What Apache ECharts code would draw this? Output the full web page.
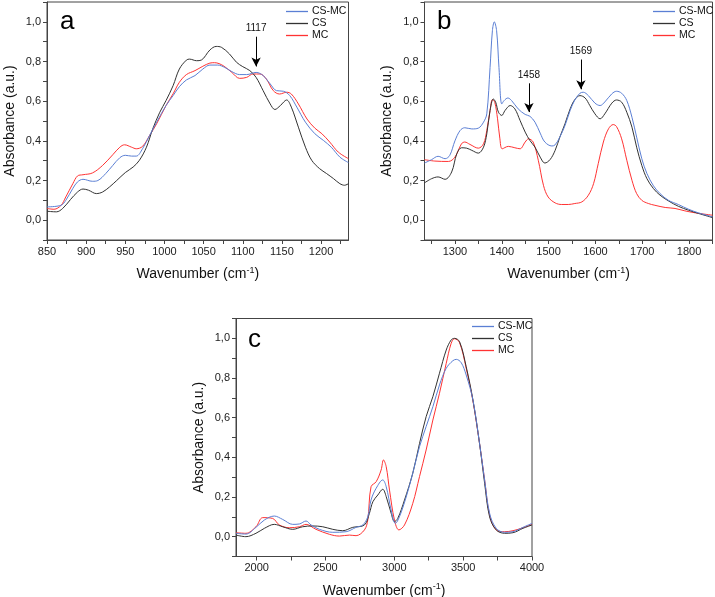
<!DOCTYPE html>
<html>
<head>
<meta charset="utf-8">
<script src="https://cdn.jsdelivr.net/npm/echarts@6/dist/echarts.min.js"></script>
<style>
html,body{margin:0;padding:0;background:#fff;}
#chart{width:715px;height:597px;}
</style>
</head>
<body>
<div id="chart"></div>
<script>
// ---------- DATA ----------
var seriesNames = ['CS-MC', 'CS', 'MC'];
var panelLetters = ['a', 'b', 'c'];
var yTickLabels = [0, 0.2, 0.4, 0.6, 0.8, 1.0];
var yTickMarks = [-0.1, 0, 0.1, 0.2, 0.3, 0.4, 0.5, 0.6, 0.7, 0.8, 0.9, 1.0, 1.1];
var aXLabels = [850, 900, 950, 1000, 1050, 1100, 1150, 1200];
var aXTicks = [850, 875, 900, 925, 950, 975, 1000, 1025, 1050, 1075, 1100, 1125, 1150, 1175, 1200, 1225];
var bXLabels = [1300, 1400, 1500, 1600, 1700, 1800];
var bXTicks = [1250, 1300, 1350, 1400, 1450, 1500, 1550, 1600, 1650, 1700, 1750, 1800, 1850];
var cXLabels = [2000, 2500, 3000, 3500, 4000];
var cXTicks = [2000, 2250, 2500, 2750, 3000, 3250, 3500, 3750, 4000];
var annotationsA = [1117];
var annotationsB = [1458, 1569];

// Panel a (850-1235 cm-1)
var aCSMC = [[850,0.067],[868,0.075],[874,0.10],[883,0.16],[889,0.193],[896,0.206],[908,0.196],[915,0.20],[925,0.235],[934,0.276],[943,0.315],[950,0.327],[958,0.323],[964,0.323],[972,0.36],[981,0.427],[990,0.494],[1002,0.578],[1011,0.628],[1019,0.673],[1028,0.707],[1039,0.729],[1049,0.762],[1058,0.782],[1068,0.782],[1077,0.77],[1086,0.749],[1096,0.734],[1105,0.734],[1117,0.745],[1126,0.729],[1135,0.687],[1143,0.653],[1152,0.65],[1160,0.628],[1169,0.57],[1180,0.494],[1192,0.436],[1203,0.402],[1213,0.368],[1224,0.318],[1235,0.29]];
var aCS = [[850,0.045],[862,0.042],[870,0.059],[880,0.104],[889,0.142],[896,0.157],[903,0.151],[913,0.134],[921,0.142],[930,0.168],[939,0.20],[950,0.24],[960,0.268],[968,0.302],[977,0.368],[985,0.46],[994,0.544],[1002,0.603],[1011,0.678],[1019,0.762],[1028,0.807],[1032,0.812],[1041,0.804],[1047,0.807],[1058,0.858],[1066,0.876],[1073,0.871],[1083,0.838],[1092,0.796],[1100,0.774],[1109,0.754],[1117,0.72],[1126,0.653],[1135,0.586],[1141,0.558],[1148,0.578],[1156,0.606],[1162,0.57],[1171,0.469],[1180,0.368],[1188,0.302],[1198,0.26],[1207,0.235],[1216,0.209],[1224,0.184],[1230,0.176],[1235,0.184]];
var aMC = [[850,0.059],[859,0.055],[868,0.075],[874,0.117],[883,0.184],[889,0.223],[896,0.229],[908,0.238],[921,0.276],[934,0.33],[943,0.368],[949,0.38],[958,0.368],[964,0.36],[972,0.372],[981,0.427],[990,0.486],[1002,0.578],[1011,0.637],[1019,0.695],[1028,0.734],[1039,0.754],[1049,0.776],[1058,0.792],[1064,0.794],[1075,0.779],[1086,0.745],[1096,0.715],[1105,0.72],[1113,0.737],[1122,0.737],[1130,0.712],[1139,0.653],[1147,0.636],[1156,0.645],[1162,0.636],[1171,0.586],[1182,0.51],[1192,0.464],[1201,0.436],[1211,0.394],[1222,0.343],[1235,0.31]];

// Panel b (1235-1850 cm-1)
var bCSMC = [[1235,0.288],[1250,0.305],[1264,0.322],[1279,0.31],[1289,0.327],[1300,0.40],[1311,0.452],[1321,0.466],[1336,0.46],[1350,0.464],[1361,0.494],[1368,0.536],[1375,0.77],[1380,0.955],[1384,1.0],[1389,0.955],[1394,0.77],[1400,0.586],[1405,0.603],[1413,0.616],[1421,0.603],[1435,0.561],[1450,0.533],[1460,0.524],[1471,0.494],[1482,0.439],[1492,0.394],[1507,0.374],[1514,0.38],[1524,0.419],[1535,0.477],[1546,0.553],[1556,0.606],[1567,0.64],[1574,0.645],[1585,0.628],[1599,0.59],[1610,0.578],[1620,0.596],[1635,0.637],[1645,0.65],[1656,0.64],[1667,0.603],[1678,0.519],[1688,0.419],[1699,0.31],[1710,0.235],[1724,0.173],[1738,0.134],[1756,0.10],[1777,0.079],[1799,0.055],[1820,0.037],[1850,0.017]];
var bCS = [[1235,0.188],[1250,0.209],[1264,0.218],[1279,0.206],[1293,0.243],[1304,0.335],[1314,0.365],[1325,0.363],[1336,0.352],[1350,0.338],[1361,0.368],[1368,0.435],[1375,0.553],[1382,0.611],[1387,0.595],[1393,0.544],[1400,0.528],[1407,0.553],[1418,0.578],[1428,0.561],[1439,0.503],[1450,0.444],[1460,0.402],[1471,0.368],[1482,0.318],[1492,0.288],[1503,0.305],[1514,0.352],[1524,0.419],[1535,0.486],[1546,0.561],[1556,0.608],[1567,0.628],[1578,0.616],[1588,0.578],[1599,0.536],[1610,0.511],[1620,0.536],[1635,0.59],[1645,0.606],[1656,0.595],[1667,0.544],[1678,0.469],[1688,0.368],[1699,0.276],[1710,0.209],[1724,0.159],[1738,0.126],[1756,0.097],[1777,0.07],[1799,0.05],[1820,0.034],[1850,0.013]];
var bMC = [[1235,0.305],[1257,0.298],[1286,0.296],[1300,0.318],[1314,0.385],[1321,0.394],[1332,0.382],[1350,0.363],[1361,0.385],[1368,0.452],[1375,0.553],[1380,0.608],[1385,0.595],[1391,0.511],[1396,0.41],[1401,0.36],[1414,0.372],[1428,0.365],[1439,0.36],[1450,0.394],[1457,0.41],[1467,0.394],[1478,0.302],[1489,0.176],[1499,0.117],[1514,0.087],[1528,0.079],[1542,0.079],[1556,0.084],[1571,0.092],[1585,0.126],[1596,0.184],[1606,0.285],[1617,0.394],[1628,0.461],[1638,0.482],[1645,0.472],[1656,0.41],[1667,0.302],[1678,0.201],[1688,0.134],[1699,0.10],[1713,0.084],[1727,0.075],[1749,0.064],[1770,0.059],[1791,0.047],[1813,0.037],[1850,0.025]];

// Panel c (1850-4000 cm-1)
var cCSMC = [[1850,0.017],[1922,0.013],[1995,0.047],[2056,0.084],[2128,0.104],[2189,0.087],[2262,0.062],[2310,0.064],[2359,0.079],[2395,0.059],[2456,0.037],[2553,0.022],[2650,0.025],[2722,0.047],[2771,0.059],[2807,0.10],[2831,0.185],[2868,0.244],[2916,0.286],[2941,0.252],[2977,0.134],[3008,0.067],[3037,0.10],[3086,0.20],[3134,0.32],[3183,0.454],[3231,0.555],[3280,0.655],[3328,0.765],[3377,0.849],[3425,0.887],[3450,0.894],[3486,0.877],[3522,0.815],[3571,0.689],[3619,0.47],[3656,0.286],[3692,0.118],[3740,0.042],[3801,0.022],[3862,0.025],[3934,0.047],[4000,0.067]];
var cCS = [[1850,0.008],[1922,0.0],[1995,0.017],[2056,0.042],[2128,0.062],[2189,0.05],[2262,0.037],[2334,0.05],[2407,0.054],[2480,0.05],[2553,0.037],[2625,0.03],[2698,0.047],[2783,0.059],[2819,0.118],[2844,0.176],[2880,0.21],[2916,0.239],[2941,0.202],[2977,0.118],[3001,0.076],[3025,0.092],[3074,0.185],[3134,0.32],[3183,0.47],[3231,0.605],[3280,0.706],[3328,0.824],[3377,0.941],[3413,0.992],[3437,1.0],[3474,0.983],[3522,0.857],[3571,0.689],[3619,0.47],[3656,0.269],[3692,0.10],[3740,0.034],[3801,0.017],[3862,0.02],[3934,0.042],[4000,0.059]];
var cMC = [[1850,0.02],[1922,0.017],[1995,0.05],[2044,0.096],[2116,0.092],[2165,0.059],[2238,0.045],[2310,0.05],[2359,0.062],[2431,0.037],[2528,0.012],[2601,0.003],[2674,0.008],[2722,0.005],[2783,0.034],[2807,0.084],[2831,0.252],[2868,0.277],[2904,0.336],[2921,0.387],[2941,0.353],[2965,0.235],[3001,0.084],[3033,0.034],[3074,0.059],[3134,0.168],[3183,0.303],[3231,0.437],[3280,0.588],[3328,0.723],[3377,0.874],[3413,0.975],[3437,0.998],[3474,0.978],[3522,0.849],[3571,0.684],[3619,0.47],[3656,0.286],[3692,0.109],[3740,0.034],[3801,0.025],[3862,0.03],[3934,0.045],[4000,0.062]];

// ---------- STYLE ----------
var colors = {'CS-MC': '#5b7fd4', 'CS': '#333333', 'MC': '#ff3333'};
var FONT = 'Liberation Sans, Arial, sans-serif';
var axisColor = '#444';

var grids = [
  {left: 47, top: 2, width: 301.5, height: 238},
  {left: 424.5, top: 2, width: 288, height: 238},
  {left: 236, top: 318.5, width: 296, height: 238}
];
var xRanges = [[850, 1235], [1235, 1850], [1850, 4000]];
var xLabelSets = [aXLabels, bXLabels, cXLabels];
var xTickSets = [aXTicks, bXTicks, cXTicks];
var panelData = [
  {'CS-MC': aCSMC, 'CS': aCS, 'MC': aMC},
  {'CS-MC': bCSMC, 'CS': bCS, 'MC': bMC},
  {'CS-MC': cCSMC, 'CS': cCS, 'MC': cMC}
];

function fmtY(v) { return (Math.round(v * 10) / 10).toFixed(1).replace('.', ','); }
function fmtX(v) { return String(Math.round(v)); }

var option = {
  backgroundColor: '#fff',
  animation: false,
  textStyle: {fontFamily: FONT},
  grid: grids.map(function (g) {
    return {left: g.left, top: g.top, width: g.width, height: g.height,
      show: true, borderColor: axisColor, borderWidth: 1, backgroundColor: 'transparent',
      containLabel: false, outerBoundsMode: 'none'};
  }),
  title: [
    {text: panelLetters[0], left: 55, top: 4, textStyle: {fontSize: 26, fontWeight: 'normal', color: '#000', fontFamily: FONT}},
    {text: panelLetters[1], left: 432, top: 4, textStyle: {fontSize: 26, fontWeight: 'normal', color: '#000', fontFamily: FONT}},
    {text: panelLetters[2], left: 243, top: 322, textStyle: {fontSize: 26, fontWeight: 'normal', color: '#000', fontFamily: FONT}}
  ],
  legend: [
    {left: 286, top: 6},
    {left: 653, top: 6},
    {left: 472, top: 321}
  ].map(function (p) {
    return {left: p.left, top: p.top, orient: 'vertical',
      data: seriesNames.map(function (n) { return {name: n, icon: 'rect', itemStyle: {color: colors[n]}}; }),
      itemWidth: 22, itemHeight: 1.3, itemGap: 1, padding: 0, selectedMode: false,
      textStyle: {fontSize: 10.5, color: '#111', fontFamily: FONT, lineHeight: 11, padding: [0, 0, 0, -1]}};
  }),
  xAxis: [0, 1, 2].map(function (i) {
    return {type: 'value', gridIndex: i, min: xRanges[i][0], max: xRanges[i][1],
      name: '{t|Wavenumber (cm}{s|-1}{t|)}', nameLocation: 'middle', nameGap: 26,
      nameTextStyle: {rich: {t: {fontSize: 14, color: '#111', fontFamily: FONT},
        s: {fontSize: 9, color: '#111', fontFamily: FONT, verticalAlign: 'top', padding: [0, 0, 8, 0]}}},
      axisLine: {show: true, onZero: false, lineStyle: {color: axisColor, width: 1}},
      axisTick: {show: true, inside: false, length: 4, lineStyle: {color: axisColor}, customValues: xTickSets[i]},
      axisLabel: {customValues: xLabelSets[i], formatter: fmtX, fontSize: 11, color: '#222', margin: 6, fontFamily: FONT},
      splitLine: {show: false}};
  }),
  yAxis: [0, 1, 2].map(function (i) {
    return {type: 'value', gridIndex: i, min: -0.1, max: 1.1,
      name: 'Absorbance (a.u.)', nameLocation: 'middle', nameGap: 30,
      nameTextStyle: {fontSize: 14, color: '#111', fontFamily: FONT},
      axisLine: {show: true, onZero: false, lineStyle: {color: axisColor, width: 1}},
      axisTick: {show: true, inside: false, length: 4, lineStyle: {color: axisColor}, customValues: yTickMarks},
      axisLabel: {customValues: yTickLabels, formatter: fmtY, fontSize: 11, color: '#222', margin: 6, fontFamily: FONT},
      splitLine: {show: false}};
  }),
  series: []
};

function arrowLines(values, tops, tips) {
  return values.map(function (v, k) {
    return [{coord: [v, tops[k]], name: String(v)}, {coord: [v, tips[k]]}];
  });
}

var markLines = [
  {vals: annotationsA, tops: [0.925], tips: [0.775]},
  {vals: annotationsB, tops: [0.69, 0.81], tips: [0.545, 0.66]},
  null
];

[0, 1, 2].forEach(function (i) {
  seriesNames.forEach(function (n, j) {
    var s = {
      name: n, type: 'line', xAxisIndex: i, yAxisIndex: i,
      data: panelData[i][n], showSymbol: false, symbol: 'none', smooth: 0.35,
      lineStyle: {color: colors[n], width: 1}, itemStyle: {color: colors[n]},
      z: 3 - j
    };
    if (j === 1 && markLines[i]) {
      var m = markLines[i];
      s.markLine = {
        silent: true, symbol: ['none', 'arrow'], symbolSize: [7, 9], animation: false,
        lineStyle: {color: '#000', width: 1, type: 'solid'},
        label: {show: true, position: 'start', formatter: '{b}', fontSize: 10, color: '#111', fontFamily: FONT, distance: 3},
        data: arrowLines(m.vals, m.tops, m.tips)
      };
    }
    option.series.push(s);
  });
});

var chart = echarts.init(document.getElementById('chart'), null, {renderer: 'canvas'});
chart.setOption(option);
</script>
</body>
</html>
